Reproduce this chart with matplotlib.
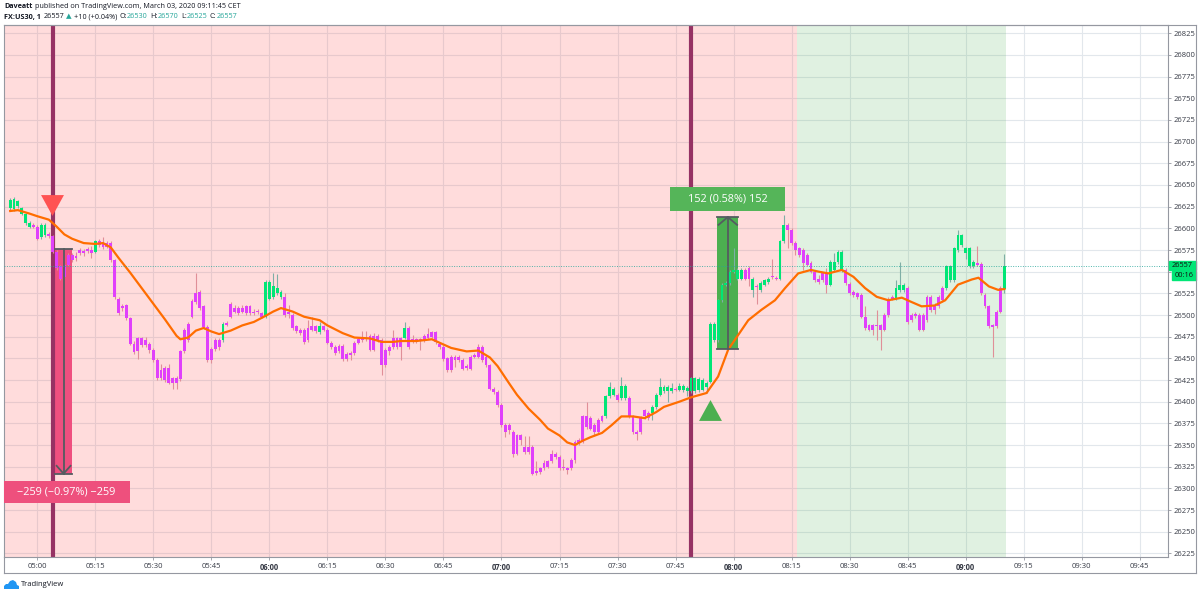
import numpy as np
import matplotlib as mpl
from matplotlib import pyplot as plt
from matplotlib.patches import Rectangle, Polygon
from matplotlib.lines import Line2D
import matplotlib.transforms as mtransforms

plt.rcParams['font.family'] = ['Open Sans', 'DejaVu Sans']

W, H = 1200, 594

# FX:US30 1 minute bars, x = minutes after 05:00, first bar is 04:53
first_minute = -7
opens = [26623, 26622, 26626, 26617, 26606, 26602, 26604, 26602, 26590, 26592,
         26594, 26591, 26573, 26556, 26558, 26569, 26569, 26568, 26575, 26574,
         26576, 26575, 26573, 26585, 26583, 26583, 26583, 26563, 26519, 26510,
         26511, 26496, 26467, 26473, 26473, 26471, 26467, 26460, 26448, 26437,
         26439, 26439, 26427, 26427, 26458, 26483, 26490, 26516, 26525, 26527,
         26510, 26486, 26461, 26471, 26471, 26471, 26491, 26513, 26508, 26508,
         26508, 26510, 26510, 26504, 26505, 26502, 26498, 26519, 26521, 26525,
         26521, 26521, 26503, 26500, 26487, 26483, 26483, 26485, 26487, 26487,
         26480, 26487, 26483, 26468, 26463, 26464, 26464, 26455, 26456, 26468,
         26472, 26474, 26474, 26476, 26476, 26476, 26471, 26460, 26463, 26473,
         26473, 26473, 26474, 26485, 26472, 26472, 26472, 26476, 26478, 26480,
         26480, 26467, 26463, 26450, 26452, 26452, 26452, 26448, 26441, 26452,
         26454, 26463, 26463, 26452, 26442, 26415, 26411, 26396, 26373, 26373,
         26365, 26361, 26361, 26348, 26348, 26348, 26320, 26323, 26329, 26331,
         26340, 26340, 26336, 26325, 26323, 26333, 26354, 26356, 26383, 26383,
         26381, 26373, 26379, 26383, 26383, 26406, 26408, 26408, 26404, 26404,
         26404, 26383, 26365, 26381, 26390, 26387, 26387, 26394, 26408, 26412,
         26412, 26412, 26415, 26414, 26413, 26412, 26412, 26412, 26413, 26414,
         26417, 26423, 26471, 26471, 26517, 26535, 26537, 26550, 26542, 26542,
         26552, 26554, 26529, 26534, 26529, 26535, 26538, 26545, 26543, 26542,
         26585, 26604, 26598, 26583, 26577, 26575, 26569, 26560, 26550, 26542,
         26548, 26548, 26535, 26552, 26561, 26552, 26552, 26536, 26527, 26525,
         26523, 26498, 26488, 26488, 26489, 26488, 26500, 26519, 26521, 26519,
         26529, 26529, 26531, 26500, 26501, 26500, 26500, 26521, 26521, 26512,
         26521, 26531, 26531, 26540, 26540, 26575, 26581, 26571, 26556, 26556,
         26560, 26559, 26523, 26510, 26488, 26504, 26531, 26530]
highs = [26635, 26636, 26633, 26625, 26618, 26608, 26606, 26604, 26606, 26606,
         26596, 26592, 26575, 26558, 26560, 26571, 26571, 26573, 26577, 26576,
         26578, 26580, 26587, 26588, 26590, 26585, 26585, 26565, 26521, 26513,
         26513, 26498, 26470, 26475, 26475, 26475, 26469, 26462, 26450, 26444,
         26441, 26444, 26429, 26430, 26460, 26485, 26492, 26518, 26548, 26529,
         26512, 26488, 26463, 26473, 26474, 26492, 26493, 26515, 26512, 26510,
         26511, 26512, 26512, 26507, 26507, 26504, 26540, 26540, 26548, 26547,
         26529, 26525, 26511, 26502, 26489, 26485, 26485, 26494, 26498, 26489,
         26492, 26489, 26485, 26470, 26465, 26466, 26466, 26457, 26458, 26470,
         26474, 26481, 26481, 26478, 26479, 26478, 26473, 26462, 26465, 26483,
         26475, 26475, 26492, 26487, 26477, 26474, 26474, 26478, 26485, 26482,
         26482, 26469, 26465, 26452, 26454, 26454, 26454, 26450, 26443, 26454,
         26456, 26466, 26465, 26454, 26444, 26417, 26413, 26398, 26375, 26375,
         26367, 26363, 26363, 26360, 26360, 26350, 26331, 26325, 26333, 26333,
         26344, 26342, 26338, 26334, 26325, 26335, 26356, 26358, 26385, 26400,
         26383, 26375, 26381, 26385, 26408, 26423, 26417, 26410, 26429, 26420,
         26406, 26385, 26367, 26383, 26392, 26389, 26396, 26410, 26427, 26419,
         26419, 26421, 26417, 26421, 26420, 26418, 26429, 26429, 26428, 26427,
         26424, 26492, 26492, 26519, 26537, 26539, 26552, 26577, 26554, 26554,
         26554, 26556, 26544, 26536, 26539, 26542, 26544, 26565, 26545, 26587,
         26615, 26606, 26600, 26585, 26579, 26577, 26571, 26562, 26552, 26546,
         26550, 26554, 26563, 26571, 26575, 26575, 26554, 26538, 26529, 26527,
         26525, 26510, 26490, 26490, 26506, 26490, 26502, 26521, 26523, 26540,
         26561, 26537, 26533, 26502, 26503, 26502, 26502, 26523, 26523, 26514,
         26523, 26533, 26558, 26558, 26579, 26598, 26594, 26579, 26579, 26563,
         26580, 26561, 26525, 26512, 26490, 26506, 26533, 26570]
lows = [26621, 26620, 26624, 26615, 26604, 26600, 26600, 26586, 26588, 26590,
        26589, 26571, 26552, 26540, 26542, 26556, 26561, 26562, 26569, 26568,
        26572, 26566, 26571, 26579, 26576, 26577, 26561, 26519, 26500, 26505,
        26494, 26465, 26455, 26449, 26463, 26463, 26456, 26446, 26425, 26425,
        26423, 26420, 26415, 26415, 26424, 26456, 26469, 26496, 26513, 26506,
        26484, 26446, 26445, 26459, 26460, 26469, 26487, 26496, 26502, 26500,
        26502, 26500, 26500, 26500, 26501, 26496, 26496, 26517, 26519, 26523,
        26519, 26498, 26496, 26483, 26479, 26477, 26467, 26469, 26481, 26479,
        26478, 26481, 26466, 26461, 26454, 26456, 26447, 26447, 26448, 26454,
        26466, 26469, 26470, 26458, 26458, 26469, 26431, 26440, 26454, 26461,
        26461, 26448, 26472, 26461, 26468, 26468, 26460, 26469, 26472, 26473,
        26467, 26461, 26447, 26434, 26434, 26440, 26446, 26436, 26437, 26436,
        26450, 26450, 26446, 26440, 26413, 26409, 26394, 26371, 26359, 26363,
        26336, 26338, 26350, 26340, 26340, 26315, 26315, 26317, 26321, 26323,
        26329, 26334, 26321, 26321, 26317, 26321, 26329, 26350, 26352, 26369,
        26367, 26361, 26363, 26376, 26381, 26404, 26406, 26400, 26402, 26402,
        26381, 26363, 26356, 26363, 26380, 26379, 26379, 26392, 26406, 26410,
        26400, 26410, 26412, 26412, 26411, 26406, 26410, 26410, 26411, 26412,
        26410, 26421, 26469, 26469, 26515, 26533, 26535, 26548, 26540, 26540,
        26540, 26533, 26521, 26513, 26527, 26533, 26536, 26542, 26540, 26540,
        26583, 26577, 26581, 26569, 26567, 26552, 26556, 26548, 26538, 26536,
        26538, 26525, 26533, 26550, 26559, 26550, 26535, 26523, 26521, 26519,
        26496, 26483, 26481, 26477, 26471, 26460, 26481, 26498, 26517, 26517,
        26527, 26527, 26490, 26492, 26497, 26481, 26481, 26492, 26504, 26501,
        26508, 26515, 26529, 26538, 26538, 26573, 26579, 26565, 26554, 26554,
        26556, 26523, 26508, 26485, 26452, 26485, 26502, 26525]
closes = [26633, 26634, 26631, 26623, 26617, 26606, 26602, 26588, 26604, 26604,
          26591, 26573, 26554, 26542, 26544, 26558, 26563, 26566, 26571, 26572,
          26574, 26571, 26585, 26581, 26578, 26579, 26563, 26521, 26502, 26508,
          26496, 26467, 26457, 26458, 26465, 26465, 26460, 26448, 26427, 26427,
          26425, 26421, 26421, 26421, 26426, 26458, 26471, 26498, 26515, 26508,
          26486, 26448, 26448, 26461, 26463, 26490, 26489, 26498, 26504, 26502,
          26504, 26502, 26502, 26502, 26503, 26498, 26538, 26538, 26533, 26531,
          26527, 26500, 26501, 26485, 26481, 26479, 26469, 26471, 26483, 26481,
          26487, 26483, 26468, 26463, 26456, 26458, 26449, 26449, 26454, 26456,
          26468, 26471, 26472, 26460, 26460, 26471, 26442, 26442, 26458, 26463,
          26463, 26463, 26485, 26463, 26470, 26470, 26470, 26471, 26474, 26475,
          26469, 26463, 26449, 26436, 26436, 26448, 26448, 26438, 26439, 26438,
          26452, 26452, 26448, 26442, 26415, 26411, 26396, 26373, 26365, 26367,
          26340, 26340, 26356, 26342, 26342, 26317, 26318, 26319, 26323, 26325,
          26331, 26336, 26323, 26323, 26321, 26323, 26333, 26352, 26354, 26371,
          26369, 26365, 26365, 26378, 26406, 26417, 26415, 26402, 26418, 26418,
          26383, 26365, 26363, 26365, 26383, 26381, 26394, 26408, 26417, 26417,
          26417, 26416, 26414, 26418, 26418, 26416, 26427, 26427, 26426, 26425,
          26422, 26490, 26490, 26517, 26535, 26537, 26550, 26552, 26552, 26552,
          26542, 26542, 26542, 26532, 26537, 26540, 26542, 26544, 26542, 26585,
          26604, 26598, 26583, 26575, 26569, 26560, 26558, 26550, 26540, 26538,
          26540, 26535, 26561, 26561, 26573, 26573, 26537, 26525, 26523, 26521,
          26498, 26485, 26483, 26483, 26487, 26483, 26483, 26500, 26519, 26531,
          26535, 26535, 26492, 26494, 26499, 26483, 26483, 26494, 26506, 26506,
          26510, 26517, 26556, 26556, 26577, 26592, 26592, 26577, 26577, 26561,
          26558, 26525, 26510, 26487, 26486, 26487, 26504, 26557]

# orange moving average
ema_t = [-7, -5, -2, 0, 3, 5, 7, 9, 12, 15, 17, 19, 21, 24, 27, 30, 33, 36, 37, 39,
         41, 43, 45, 47, 50, 53, 56, 59, 61, 63, 66, 69, 73, 75, 79, 82, 86, 89, 92, 94,
         98, 102, 105, 107, 111, 114, 117, 119, 122, 124, 127, 130, 132, 135, 137, 139,
         141, 143, 146, 148.5, 151, 154, 157, 160, 162, 166, 169, 173, 176, 178.6,
         181.2, 183.8, 187.2, 190.7, 193.3, 196.7, 200, 202, 204.5, 208, 211, 214, 217,
         220, 223.5, 226, 228.6, 232, 234.7, 238, 241.6, 243.3, 246, 248.4, 250]
ema_v = [26620, 26621, 26617, 26614, 26610, 26602, 26593, 26588, 26583, 26582,
         26583, 26578, 26566, 26549, 26531, 26513, 26495, 26476, 26472, 26474,
         26482, 26485, 26481, 26478, 26482, 26488, 26492, 26499, 26504, 26508,
         26504, 26498, 26494, 26488, 26479, 26474, 26473, 26469, 26469, 26470,
         26470, 26472, 26466, 26462, 26458, 26459, 26451, 26441, 26421, 26408,
         26392, 26379, 26369, 26361, 26353, 26350, 26355, 26359, 26364, 26373,
         26383, 26383, 26381, 26388, 26394, 26400, 26405, 26410, 26429, 26460,
         26477, 26494, 26506, 26517, 26531, 26548, 26552, 26550, 26548, 26552,
         26544, 26531, 26521, 26517, 26520, 26515, 26510, 26511, 26517, 26535,
         26541, 26543, 26533, 26529, 26530]

# trades drawn on the chart
short_bar, long_bar = 4, 169
short_entry, short_target = 26576, 26317
long_entry, long_target = 26461, 26613
sell_signal, buy_signal = 26627, 26390
last_price = 26557
zone_split, zone_end = 196.5, 250.5

GREEN, PURPLE = '#00e676', '#e040fb'
GRAY = '#555c60'

fig = plt.figure(figsize=(W / 100, H / 100), dpi=100)
ax = fig.add_axes([4 / W, 1 - 557 / H, 1164 / W, 532 / H])
ax.set_xlim(-8.6, 292.3)
ax.set_ylim(26220.8, 26834.6)

t = np.arange(len(opens)) + first_minute
o, hi, lo, c = map(np.array, (opens, highs, lows, closes))
up = c >= o

#background zones
ax.axvspan(-20, zone_split, color='#ff5252', alpha=0.2, lw=0, zorder=1)
ax.axvspan(zone_split, zone_end, color='#4caf50', alpha=0.17, lw=0, zorder=1)

#grid + ticks
ax.set_xticks(np.arange(0, 286, 15))
ax.set_xticklabels(['%02d:%02d' % (5 + m // 60, m % 60) for m in range(0, 286, 15)])
yt = np.arange(26225, 26826, 25)
ax.set_yticks(yt)
ax.set_yticklabels(['' if v == 26550 else str(v) for v in yt])  #hidden by the price tag
ax.grid(True, color='#e2e7ec', lw=0.8)
ax.set_axisbelow(True)
ax.yaxis.tick_right()
ax.tick_params(axis='both', direction='out', length=2.2, width=0.6, color='#9598a1',
               labelsize=5.5, labelcolor='#363a45', pad=2)
for lab in ax.get_xticklabels():
    if lab.get_text().endswith(':00') and lab.get_text() != '05:00':
        lab.set_fontweight('bold')
for sp in ax.spines.values():
    sp.set_color('#9598a1')
    sp.set_linewidth(0.8)

#position boxes (under the candles)
ax.add_patch(Rectangle((4.7, short_target), 4.2, short_entry - short_target,
                       color='#ef4f7f', lw=0, zorder=2))
ax.add_patch(Rectangle((175.8, long_entry), 5.4, long_target - long_entry,
                       color='#4caf50', lw=0, zorder=2))

#signal bars
ax.axvline(short_bar, color='#963264', lw=3, zorder=2.5)
ax.axvline(long_bar, color='#963264', lw=3, zorder=2.5)

#candles
ax.vlines(t, np.minimum(lo, np.minimum(o, c)), np.maximum(hi, np.maximum(o, c)),
          colors=np.where(up, '#7faea6', '#e08f98'), lw=0.8, zorder=3)
body = np.maximum(np.abs(c - o), 1.2)
ax.bar(t, body, width=0.74, bottom=np.minimum(o, c),
       color=np.where(up, GREEN, PURPLE), lw=0, zorder=4)

#moving average
ax.plot(ema_t, ema_v, color='#ff6d00', lw=1.6, zorder=5, solid_joinstyle='round')

#arrows inside the position boxes
sx = 6.8
ax.plot([sx, sx], [short_target, short_entry], color=GRAY, lw=1.3, zorder=6)
ax.plot([4.7, 8.9], [short_entry, short_entry], color=GRAY, lw=1.3, zorder=6)
ax.plot([4.7, 8.9], [short_target, short_target], color=GRAY, lw=1.3, zorder=6)
ax.plot([5.0, sx, 8.6], [short_target + 9, short_target, short_target + 9],
        color=GRAY, lw=1.3, zorder=6)
lx = 178.5
ax.plot([lx, lx], [long_entry, long_target], color=GRAY, lw=1.3, zorder=6)
ax.plot([175.8, 181.2], [long_entry, long_entry], color=GRAY, lw=1.3, zorder=6)
ax.plot([175.8, 181.2], [long_target, long_target], color=GRAY, lw=1.3, zorder=6)
ax.plot([176.1, lx, 180.9], [long_target - 9, long_target, long_target - 9],
        color=GRAY, lw=1.3, zorder=6)

#signal triangles
tri_dn = [(-1.1, 1), (1.1, 1), (0, -1)]
tri_up = [(-1.1, -1), (1.1, -1), (0, 1)]
ax.plot(short_bar - 0.2, sell_signal, marker=tri_dn, ms=16.5, color='#ff5252', mew=0, zorder=7)
ax.plot(long_bar + 5, buy_signal, marker=tri_up, ms=16.5, color='#4caf50', mew=0, zorder=7)

#profit / loss labels
ax.add_patch(Rectangle((-8.6, 26283), 32.5, 25.4, color='#ee507d', lw=0, zorder=8, clip_on=False))
ax.text(7.6, 26296, '\u2212%d (\u22120.97%%) \u2212%d' % (short_entry - short_target, short_entry - short_target),
        color='white', fontsize=7.8, ha='center', va='center', zorder=9)
ax.add_patch(Rectangle((163.6, 26620), 29.7, 27.7, color='#55b559', lw=0, zorder=8))
ax.text(178.5, 26634, '%d (0.58%%) %d' % (long_target - long_entry, long_target - long_entry),
        color='white', fontsize=7.8, ha='center', va='center', zorder=9)

#last price line + tags
ax.axhline(last_price, color='#26a69a', lw=0.7, ls=(0, (1, 1.5)), zorder=6, alpha=0.8)
bt = mtransforms.blended_transform_factory(ax.transAxes, ax.transData)
ax.add_patch(Rectangle((1.0008, last_price - 5.2), 0.0232, 10.4, color='#00e676',
                       transform=bt, clip_on=False, zorder=9))
ax.text(1.0124, last_price, str(last_price), transform=bt, fontsize=5.3, color='#111',
        ha='center', va='center', clip_on=False, zorder=10)
ax.add_patch(Rectangle((1.0034, last_price - 16.5), 0.0206, 10.4, color='#00e676',
                       transform=bt, clip_on=False, zorder=9))
ax.text(1.0137, last_price - 11.4, '00:16', transform=bt, fontsize=5.3, color='#111',
        ha='center', va='center', clip_on=False, zorder=10)

#outer frame round the price and time axes
fc = '#9598a1'
for xs, ys in [((4, 1196), (25, 25)), ((1196, 1196), (25, 573)), ((4, 1196), (573, 573)),
               ((4, 4), (557, 573))]:
    fig.add_artist(Line2D([x / W for x in xs], [1 - y / H for y in ys], color=fc, lw=0.8))

#header
def text_run(x_px, y_px, parts, size):
    r = fig.canvas.get_renderer()
    for s, col, bold, gap in parts:
        tx = fig.text(x_px / W, 1 - y_px / H, s, fontsize=size, color=col,
                      fontweight='bold' if bold else 'normal', va='center', ha='left')
        x_px += tx.get_window_extent(r).width + gap

dark, teal = '#131722', '#26a69a'
text_run(4, 7, [('Daveatt', dark, True, 2.5),
                ('published on TradingView.com, March 03, 2020 09:11:45 CET', dark, False, 0)], 5.2)
text_run(4, 17, [('FX:US30, 1', dark, True, 2.5), ('26557', dark, False, 2),
                 ('\u25b2', teal, False, 2), ('+10 (+0.04%)', dark, False, 2.5),
                 ('O:', dark, False, 0), ('26530', teal, False, 2.5),
                 ('H:', dark, False, 0), ('26570', teal, False, 2.5),
                 ('L:', dark, False, 0), ('26525', teal, False, 2.5),
                 ('C:', dark, False, 0), ('26557', teal, False, 0)], 5.2)

#TradingView logo
cloud = [(4, 589), (4, 586), (6, 584), (8, 584), (10, 581), (13, 580), (16, 582),
         (17, 585), (19, 586), (19, 589)]
fig.add_artist(Polygon([(x / W, 1 - y / H) for x, y in cloud], closed=True,
                       color='#2196f3', lw=0, transform=fig.transFigure))
fig.text(21 / W, 1 - 585 / H, 'TradingView', fontsize=5.5, color=dark, va='center')

fig.savefig('out.png', dpi=100)
